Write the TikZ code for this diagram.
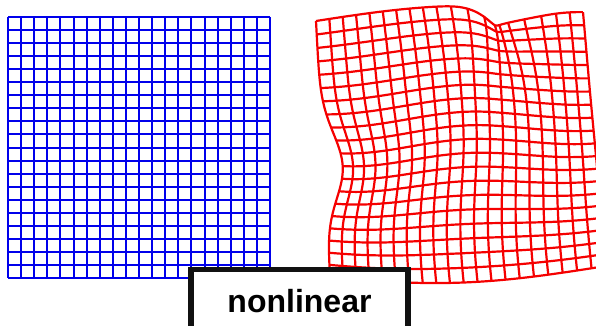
\documentclass[tikz,border=0pt]{standalone}
\usepackage{fontspec}
\setmainfont{Liberation Sans}
\usepackage{xcolor}
\usepackage{tikz}
\definecolor{gridblue}{RGB}{0,0,235}
\definecolor{gridred}{RGB}{245,0,0}
\definecolor{boxdark}{RGB}{17,17,17}
\tikzset{
  plaingrid/.style={draw=gridblue, line width=2pt},
  warpgrid/.style={draw=gridred, line width=2.2pt, line join=round},
  tagbox/.style={rectangle, draw=boxdark, fill=white, line width=5.5pt,
    minimum width=217pt, minimum height=63pt, inner sep=0pt,
    font=\bfseries\fontsize{32}{32}\selectfont}
}

\begin{document}
\begin{tikzpicture}[x=1pt, y=-1pt,
  declare function={
    fx(\x,\y)=(1-\y)*((1-\x)*316+\x*583)+\y*((1-\x)*330+\x*606)
      +19*exp(-((\y-0.55)/0.18)*((\y-0.55)/0.18))*exp(-\x/0.25)
      -190*(\x-0.68)*exp(-((\x-0.68)/0.1)*((\x-0.68)/0.1))*exp(-(\y/0.22)*(\y/0.22))
      +5*sin(300*\y)*sin(180*\x);
    fy(\x,\y)=(1-\x)*((1-\y)*21+\y*277)+\x*((1-\y)*11+\y*266)
      -10*sin(180*\x)*(1-\y)+11*sin(180*\x)*\y
      +20*exp(-((\x-0.66)/(\x<0.66?0.08:0.2))*((\x-0.66)/(\x<0.66?0.08:0.2)))*exp(-\y/0.12)
      +5*sin(400*\x+60)*sin(180*\y);
  }]
  \useasboundingbox (0,0) rectangle (596,326);

  % regular grid
  \foreach \i in {0,...,20}{
    \draw[plaingrid] (8+13.1*\i,17) -- (8+13.1*\i,278);
    \draw[plaingrid] (8,17+13.05*\i) -- (270,17+13.05*\i);
  }

  % warped grid
  \foreach \i in {0,...,20}{
    \draw[warpgrid] plot[smooth, variable=\t, domain=0:1, samples=41] ({fx(\i/20,\t)},{fy(\i/20,\t)});
    \draw[warpgrid] plot[smooth, variable=\t, domain=0:1, samples=41] ({fx(\t,\i/20)},{fy(\t,\i/20)});
  }

  \node[tagbox] (tag) at (299.5,301) {nonlinear};
\end{tikzpicture}
\end{document}
